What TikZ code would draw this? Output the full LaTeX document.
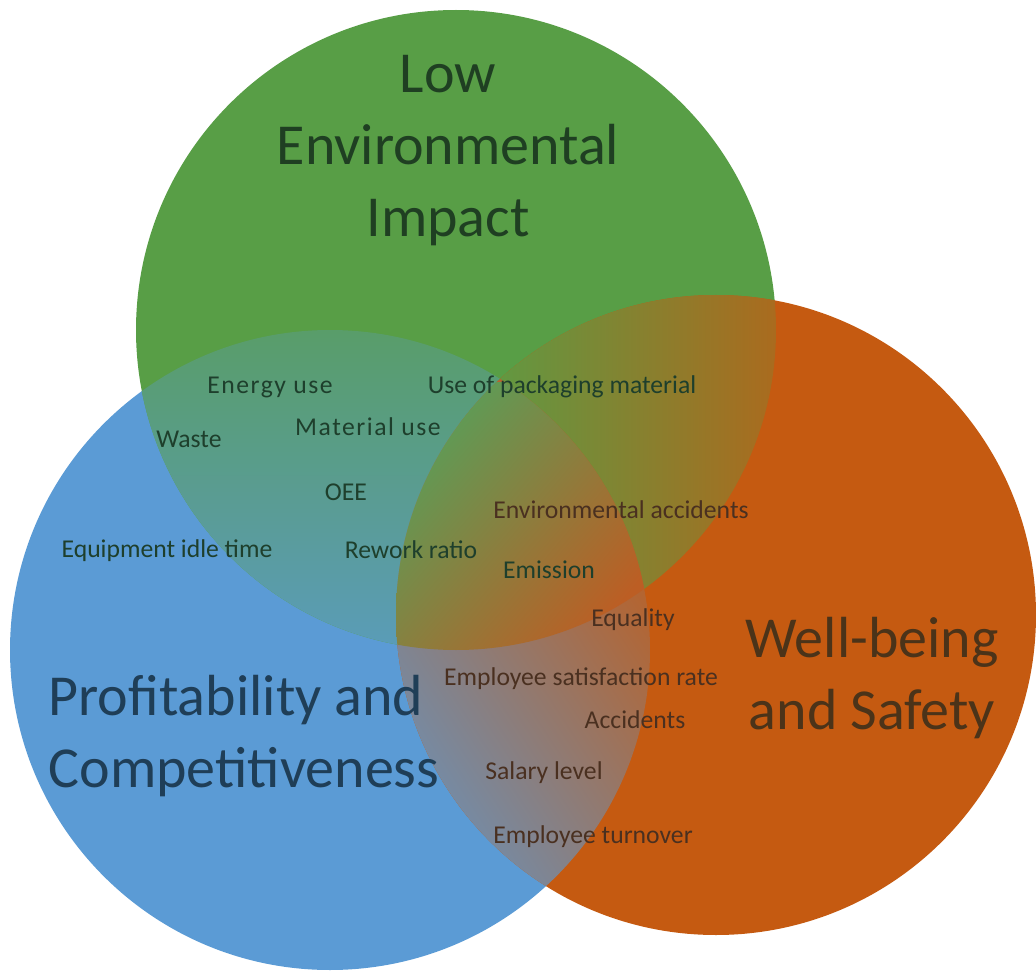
\documentclass[tikz,border=0pt]{standalone}
\usepackage{fontspec}
\setmainfont{Carlito}
\usepackage{tikz}
\definecolor{vgreen}{HTML}{589E46}
\definecolor{vblue}{HTML}{5B9BD5}
\definecolor{vorange}{HTML}{C55A11}
\definecolor{tripletop}{HTML}{5A9E58}
\definecolor{triplebottom}{HTML}{BC5E24}
\definecolor{greentext}{HTML}{1F3F22}
\definecolor{bluetext}{HTML}{1F3E57}
\definecolor{browntext}{HTML}{4B3319}
\definecolor{labelgreen}{HTML}{1E3F2C}
\definecolor{labelbrown}{HTML}{4A3020}

\begin{document}
\begin{tikzpicture} [
    every node/.style = {inner sep=0pt},
    big/.style = {font=\fontsize{16.5}{20.5}\selectfont, align=center},
    small/.style = {font=\fontsize{7.3}{9}\selectfont, anchor=base},
    spaced/.style = {font=\fontsize{7.3}{9}\selectfont\addfontfeature{LetterSpace=6}}
]
    \useasboundingbox (0,0) rectangle (10.36,9.72);
    \def\greencirc{(4.56,6.42) circle (3.2)}
    \def\bluecirc{(3.30,3.22) circle (3.2)}
    \def\orangecirc{(7.16,3.57) circle (3.2)}

    \fill[vblue] \bluecirc;
    \fill[vgreen] \greencirc;
    \fill[vorange] \orangecirc;

    % green and blue
    \begin{scope}
        \clip \greencirc;
        \clip \bluecirc;
        \shade[top color=vgreen!75!vblue, bottom color=vgreen!20!vblue] (0.1,3.22) rectangle (7.8,6.42);
    \end{scope}
    % green and orange
    \begin{scope}
        \clip \greencirc;
        \clip \orangecirc;
        \shade[left color=vgreen, right color=vorange!75!vgreen] (4.6,0.3) rectangle (7.76,6.8);
    \end{scope}
    % blue and orange
    \begin{scope}
        \clip \bluecirc;
        \clip \orangecirc;
        \shade[top color=vorange!95!vblue, bottom color=vblue!85!vorange, shading angle=-57] (3.96,0.3) rectangle (6.5,6.0);
    \end{scope}
    % all three
    \begin{scope}
        \clip \greencirc;
        \clip \bluecirc;
        \clip \orangecirc;
        \shade[top color=tripletop, bottom color=triplebottom, shading angle=50] (3.96,3.2) rectangle (6.5,5.9);
    \end{scope}

    \node[big, text=greentext] (low) at (4.48,8.21) {Low\\Environmental\\Impact};
    \node[big, align=left, text=bluetext] (profit) at (2.44,2.36) {Profitability and\\Competitiveness};
    \node[big, text=browntext] (well) at (8.72,2.94) {Well-being\\and Safety};

    \node[small, spaced, text=labelgreen] (energy) at (2.70,5.79) {Energy use};
    \node[small, text=labelgreen] (packaging) at (5.62,5.79) {Use of packaging material};
    \node[small, text=labelgreen] (waste) at (1.89,5.25) {Waste};
    \node[small, spaced, text=labelgreen] (material) at (3.68,5.37) {Material use};
    \node[small, text=labelgreen] (oee) at (3.46,4.71) {OEE};
    \node[small, text=labelbrown] (envacc) at (6.21,4.54) {Environmental accidents};
    \node[small, text=labelgreen] (idle) at (1.67,4.15) {Equipment idle time};
    \node[small, text=labelgreen] (rework) at (4.11,4.14) {Rework ratio};
    \node[small, text=labelgreen] (emission) at (5.49,3.94) {Emission};
    \node[small, text=labelbrown] (equality) at (6.33,3.46) {Equality};
    \node[small, text=labelbrown] (satisfaction) at (5.81,2.87) {Employee satisfaction rate};
    \node[small, text=labelbrown] (accidents) at (6.35,2.44) {Accidents};
    \node[small, text=labelbrown] (salary) at (5.44,1.93) {Salary level};
    \node[small, text=labelbrown] (turnover) at (5.93,1.29) {Employee turnover};
\end{tikzpicture}
\end{document}
